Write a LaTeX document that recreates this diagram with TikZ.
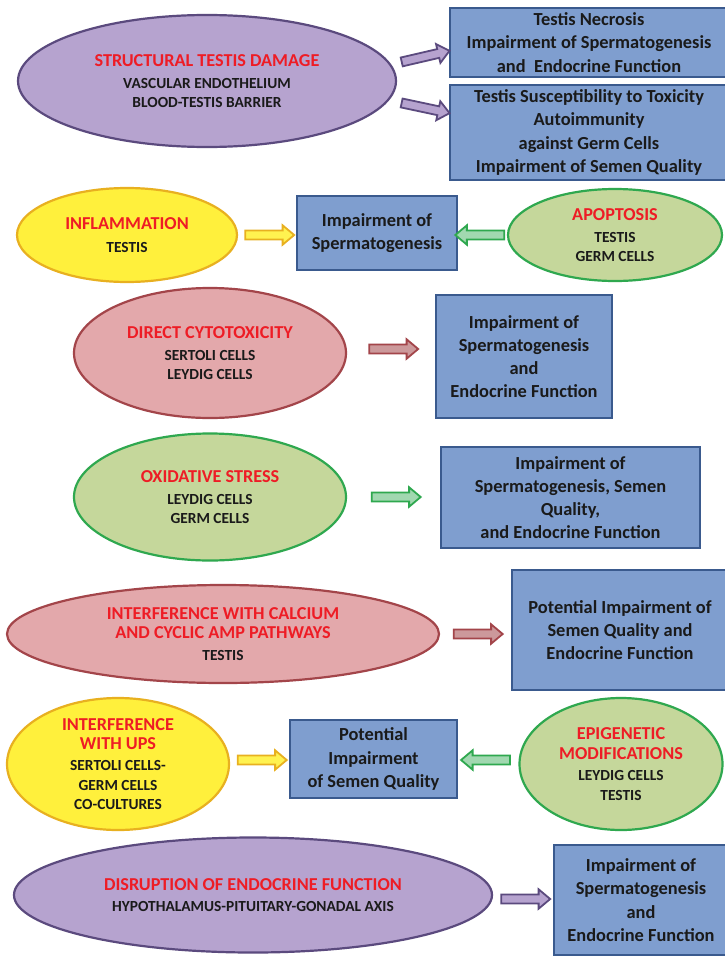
\documentclass[tikz,border=0pt]{standalone}
\usepackage{fontspec}
\setmainfont{Carlito}
\usepackage{tikz}
\usetikzlibrary{shapes.geometric,shapes.arrows,calc}
\definecolor{tx-red}{HTML}{EE1C25}
\definecolor{tx-dark}{HTML}{1A1A1A}
\definecolor{pu-fill}{HTML}{B6A3CF}
\definecolor{pu-edge}{HTML}{5B4A7E}
\definecolor{ye-fill}{HTML}{FFF03C}
\definecolor{ye-edge}{HTML}{E8B020}
\definecolor{gr-fill}{HTML}{C5D79B}
\definecolor{gr-edge}{HTML}{2FA84F}
\definecolor{re-fill}{HTML}{E3A8AB}
\definecolor{re-edge}{HTML}{A3454A}
\definecolor{bx-fill}{HTML}{7F9ECF}
\definecolor{bx-edge}{HTML}{3A5A8E}
\newcommand{\ttl}[1]{{\color{tx-red}\fontsize{9.1}{11}\selectfont #1}}

\begin{document}
\begin{tikzpicture}[
    x=0.5pt, y=-0.5pt,
    cause/.style={ellipse, line width=1.1pt, inner sep=-3pt, align=center, text=tx-dark, font=\bfseries\fontsize{7.7}{9.7}\selectfont},
    purp/.style={cause, draw=pu-edge, fill=pu-fill},
    yell/.style={cause, draw=ye-edge, fill=ye-fill},
    gree/.style={cause, draw=gr-edge, fill=gr-fill},
    redd/.style={cause, draw=re-edge, fill=re-fill},
    effect/.style={draw=bx-edge, fill=bx-fill, line width=1.1pt, inner sep=1pt, align=center, text=tx-dark, font=\bfseries\fontsize{9.2}{11.6}\selectfont},
    fat/.style={single arrow, line width=0.9pt, minimum height=24.5pt, inner xsep=0pt, inner ysep=1.8pt, single arrow head extend=2.6pt, single arrow tip angle=80, sloped, allow upside down},
    fatpu/.style={fat, draw=pu-edge, fill=pu-fill},
    fatye/.style={fat, draw=ye-edge, fill=ye-fill!90!white},
    fatgr/.style={fat, draw=gr-edge, fill=gr-edge!45!white},
    fatre/.style={fat, draw=re-edge, fill=re-edge!55!white}
]
\useasboundingbox (0,0) rectangle (724,958);
\fill[white] (0,0) rectangle (724,958);

% =========================================================================
% STRUCTURAL DAMAGE
% =========================================================================
\node[purp, minimum width=189pt, minimum height=66pt] (dmg) at (207,81)
    {\ttl{STRUCTURAL TESTIS DAMAGE}\\[1.5pt] VASCULAR ENDOTHELIUM\\ BLOOD-TESTIS BARRIER};
\node[effect, minimum width=139pt, minimum height=34.5pt] (nec) at (589,42.5)
    {Testis Necrosis\\ Impairment of Spermatogenesis\\ and~ Endocrine Function};
\node[effect, minimum width=139pt, minimum height=47.5pt] (sus) at (589,132.5)
    {Testis Susceptibility to Toxicity\\ Autoimmunity\\ against Germ Cells\\ Impairment of Semen Quality};

\path ([yshift=9pt]dmg.east) -- node[fatpu] {} ([yshift=-4.25pt]nec.west);
\path ([yshift=-10.5pt]dmg.east) -- node[fatpu] {} ([yshift=9.75pt]sus.west);


% =========================================================================
% INFLAMMATION / APOPTOSIS
% =========================================================================
\node[yell, minimum width=110pt, minimum height=47pt] (inf) at (127,235)
    {\ttl{INFLAMMATION}\\[1.5pt] TESTIS};
\node[effect, minimum width=80pt, minimum height=37pt] (imp1) at (377,233)
    {Impairment of\\ Spermatogenesis};
\node[gree, minimum width=107pt, minimum height=46pt] (apo) at (615,235)
    {\ttl{APOPTOSIS}\\[1.5pt] TESTIS\\ GERM CELLS};

\path (inf.east) -- node[fatye] {} (inf.east -| imp1.west);
\path (apo.west) -- node[fatgr] {} (apo.west -| imp1.east);


% =========================================================================
% DIRECT CYTOTOXICITY
% =========================================================================
\node[redd, minimum width=136pt, minimum height=65pt] (cyto) at (210,353)
    {\ttl{DIRECT CYTOTOXICITY}\\[1.5pt] SERTOLI CELLS\\ LEYDIG CELLS};
\node[effect, minimum width=88pt, minimum height=61.5pt] (imp3) at (524,356.5)
    {Impairment of\\ Spermatogenesis\\ and\\ Endocrine Function};

\path ([yshift=2pt]cyto.east) -- node[fatre] {} ([yshift=2pt]cyto.east -| imp3.west);


% =========================================================================
% OXIDATIVE STRESS
% =========================================================================
\node[gree, minimum width=136pt, minimum height=63.5pt] (ox) at (210,497)
    {\ttl{OXIDATIVE STRESS}\\[1.5pt] LEYDIG CELLS\\ GERM CELLS};
\node[effect, minimum width=129.5pt, minimum height=50.5pt] (imp4) at (570.5,497.5)
    {Impairment of\\ Spermatogenesis, Semen\\ Quality,\\ and Endocrine Function};

\path (ox.east) -- node[fatgr] {} (ox.east -| imp4.west);


% =========================================================================
% CALCIUM AND CYCLIC AMP
% =========================================================================
\node[redd, minimum width=216pt, minimum height=49pt] (calc) at (223,634)
    {\ttl{INTERFERENCE WITH CALCIUM}\\ \ttl{AND CYCLIC AMP PATHWAYS}\\[1pt] TESTIS};
\node[effect, minimum width=108pt, minimum height=60pt] (imp5) at (620,630)
    {Potential Impairment of\\ Semen Quality and\\ Endocrine Function};

\path (calc.east) -- node[fatre] {} (calc.east -| imp5.west);


% =========================================================================
% UPS / EPIGENETIC
% =========================================================================
\node[yell, minimum width=111pt, minimum height=66pt] (ups) at (118,764)
    {\ttl{INTERFERENCE}\\ \ttl{WITH UPS}\\[1pt] SERTOLI CELLS-\\ GERM CELLS\\ CO-CULTURES};
\node[effect, minimum width=83.5pt, minimum height=39pt] (imp6) at (373.5,759)
    {Potential\\ Impairment\\ of Semen Quality};
\node[gree, minimum width=101.5pt, minimum height=66pt] (epi) at (621,764)
    {\ttl{EPIGENETIC}\\ \ttl{MODIFICATIONS}\\[1pt] LEYDIG CELLS\\ TESTIS};

\path ([yshift=2pt]ups.east) -- node[fatye] {} ([yshift=2pt]ups.east -| imp6.west);
\path ([yshift=2pt]epi.west) -- node[fatgr] {} ([yshift=2pt]epi.west -| imp6.east);


% =========================================================================
% ENDOCRINE DISRUPTION
% =========================================================================
\node[purp, minimum width=239pt, minimum height=57.5pt] (endo) at (253,895)
    {\ttl{DISRUPTION OF ENDOCRINE FUNCTION}\\[0.5pt] HYPOTHALAMUS-PITUITARY-GONADAL AXIS};
\node[effect, minimum width=87pt, minimum height=55pt] (imp7) at (641,900)
    {Impairment of\\ Spermatogenesis\\ and\\ Endocrine Function};

\path ([yshift=-2pt]endo.east) -- node[fatpu] {} ([yshift=-2pt]endo.east -| imp7.west);

\end{tikzpicture}
\end{document}
